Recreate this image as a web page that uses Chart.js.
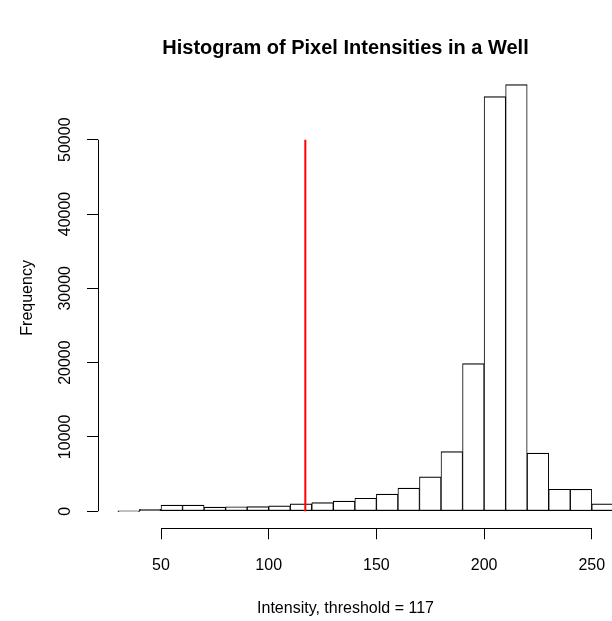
<!DOCTYPE html>
<html>
<head>
<meta charset="utf-8">
<script src="https://cdn.jsdelivr.net/npm/chart.js@4/dist/chart.umd.min.js"></script>
<style>
  html, body { margin: 0; padding: 0; background: #fff; }
  #wrap { width: 612px; height: 621px; }
</style>
</head>
<body>
<div id="wrap"><canvas id="histChart"></canvas></div>
<script>
// Histogram bins (left edge of each 10-wide bin) and counts
const binStarts = [30, 40, 50, 60, 70, 80, 90, 100, 110, 120, 130, 140, 150, 160, 170, 180, 190, 200, 210, 220, 230, 240, 250];
const binWidth = 10;
const counts = [0, 270, 830, 830, 560, 600, 620, 710, 980, 1160, 1350, 1750, 2290, 3100, 4620, 8020, 19870, 55800, 57420, 7810, 2960, 2960, 980];

// threshold marker
const threshold = 117;
const thresholdTop = 50000;

// axis ticks
const xTicks = [50, 100, 150, 200, 250];
const yTicks = [0, 10000, 20000, 30000, 40000, 50000];

const FONT = "'Liberation Sans', Arial, Helvetica, sans-serif";

const histData = binStarts.map((s, i) => ({ x: s + binWidth / 2, y: counts[i] }));

// R-style axis lines: only from first to last tick
const rAxes = {
  id: 'rAxes',
  afterDraw(chart) {
    const { ctx, chartArea, scales } = chart;
    ctx.save();
    ctx.strokeStyle = '#000';
    ctx.lineWidth = 1;
    ctx.beginPath();
    const yb = Math.round(chartArea.bottom) + 0.5;
    ctx.moveTo(scales.x.getPixelForValue(xTicks[0]), yb);
    ctx.lineTo(scales.x.getPixelForValue(xTicks[xTicks.length - 1]), yb);
    const xl = Math.round(chartArea.left) + 0.5;
    ctx.moveTo(xl, scales.y.getPixelForValue(yTicks[0]));
    ctx.lineTo(xl, scales.y.getPixelForValue(yTicks[yTicks.length - 1]));
    ctx.stroke();
    ctx.restore();
  }
};

const ctx = document.getElementById('histChart').getContext('2d');

new Chart(ctx, {
  type: 'bar',
  data: {
    datasets: [
      {
        type: 'line',
        data: [{ x: threshold, y: 0 }, { x: threshold, y: thresholdTop }],
        borderColor: '#ff0000',
        borderWidth: 2,
        pointRadius: 0,
        order: 0,
        clip: false
      },
      {
        type: 'bar',
        data: histData,
        backgroundColor: '#ffffff',
        borderColor: '#000000',
        borderWidth: { top: 1.2, bottom: 1.2, left: 1, right: 1 },
        borderSkipped: false,
        barPercentage: 1,
        categoryPercentage: 1,
        minBarLength: 1,
        order: 1,
        clip: false
      }
    ]
  },
  options: {
    responsive: true,
    maintainAspectRatio: false,
    animation: false,
    layout: { padding: { left: 0, right: 19, top: 0, bottom: 0 } },
    plugins: {
      legend: { display: false },
      tooltip: { enabled: false },
      title: {
        display: true,
        text: 'Histogram of Pixel Intensities in a Well',
        color: '#000',
        fullSize: false,
        font: { family: FONT, size: 20, weight: 'bold' },
        padding: { top: 36, bottom: 7.5 }
      }
    },
    scales: {
      x: {
        type: 'linear',
        offset: false,
        min: 20.75,
        max: 250.56,
        afterBuildTicks: (scale) => { scale.ticks = xTicks.map(v => ({ value: v })); },
        afterFit: (scale) => {
          scale.height = 92.7;
          scale.paddingLeft = 0;
          scale.paddingRight = 0;
        },
        grid: { display: true, drawOnChartArea: false, drawTicks: true, tickLength: 11, color: '#000', offset: false },
        border: { display: false },
        ticks: {
          color: '#000',
          font: { family: FONT, size: 16 },
          padding: 17,
          maxRotation: 0,
          autoSkip: false,
          callback: (v) => String(v)
        },
        title: {
          display: true,
          text: 'Intensity, threshold = ' + threshold,
          color: '#000',
          font: { family: FONT, size: 16 },
          padding: { top: 0, bottom: 3 }
        }
      },
      y: {
        min: -2300,
        max: 59720,
        afterBuildTicks: (scale) => { scale.ticks = yTicks.map(v => ({ value: v })); },
        afterFit: (scale) => { scale.width = 98; },
        grid: { display: true, drawOnChartArea: false, drawTicks: true, tickLength: 11, color: '#000' },
        border: { display: false },
        ticks: {
          color: '#000',
          font: { family: FONT, size: 16 },
          minRotation: 90,
          maxRotation: 90,
          crossAlign: 'center',
          padding: -1,
          autoSkip: false,
          callback: (v) => String(v)
        },
        title: {
          display: true,
          text: 'Frequency',
          color: '#000',
          font: { family: FONT, size: 16 },
          padding: { top: 18.4, bottom: 0 }
        }
      }
    }
  },
  plugins: [rAxes]
});
</script>
</body>
</html>
